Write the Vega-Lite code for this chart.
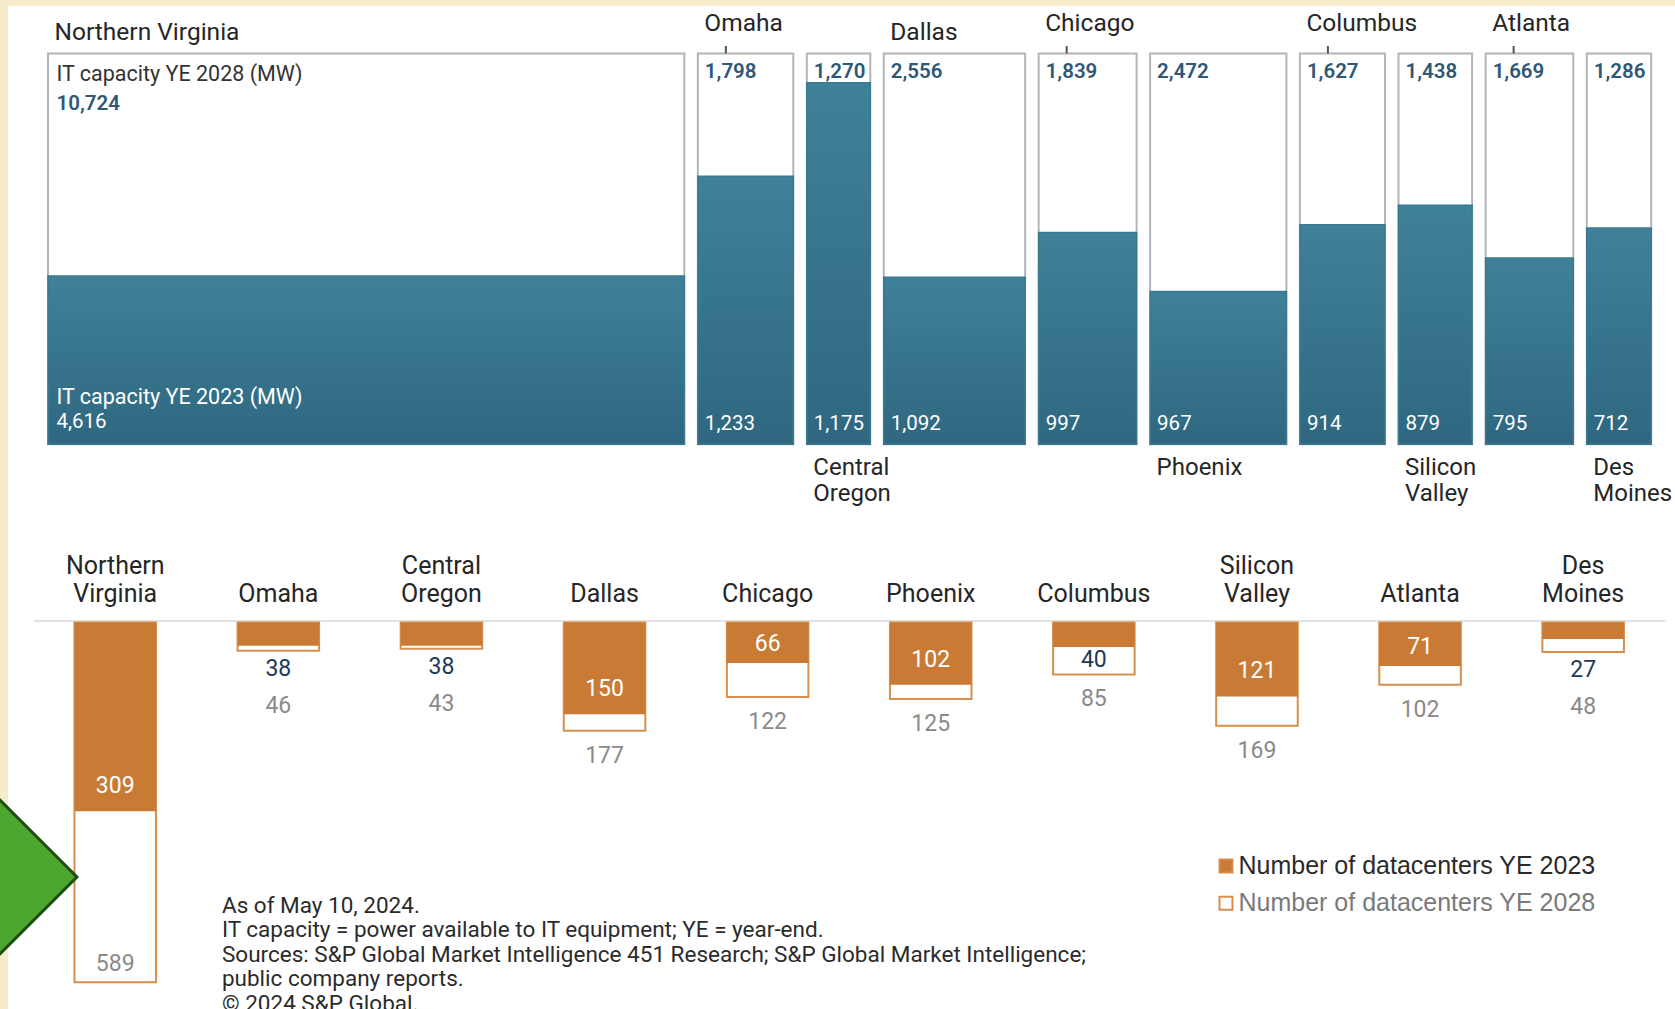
{
  "$schema": "https://vega.github.io/schema/vega-lite/v6.json",
  "width": 1667,
  "height": 1003,
  "autosize": {"type": "none"},
  "padding": {"left": 8, "top": 6, "right": 0, "bottom": 0},
  "background": "#f7ecca",
  "config": {"view": {"fill": "#ffffff", "stroke": null}, "font": "Roboto"},
  "datasets": {
    "cities": [
      {"city": "Northern Virginia", "mw2023": 4616, "mw2028": 10724, "dc2023": 309, "dc2028": 589},
      {"city": "Omaha", "mw2023": 1233, "mw2028": 1798, "dc2023": 38, "dc2028": 46},
      {"city": "Central Oregon", "mw2023": 1175, "mw2028": 1270, "dc2023": 38, "dc2028": 43},
      {"city": "Dallas", "mw2023": 1092, "mw2028": 2556, "dc2023": 150, "dc2028": 177},
      {"city": "Chicago", "mw2023": 997, "mw2028": 1839, "dc2023": 66, "dc2028": 122},
      {"city": "Phoenix", "mw2023": 967, "mw2028": 2472, "dc2023": 102, "dc2028": 125},
      {"city": "Columbus", "mw2023": 914, "mw2028": 1627, "dc2023": 40, "dc2028": 85},
      {"city": "Silicon Valley", "mw2023": 879, "mw2028": 1438, "dc2023": 121, "dc2028": 169},
      {"city": "Atlanta", "mw2023": 795, "mw2028": 1669, "dc2023": 71, "dc2028": 102},
      {"city": "Des Moines", "mw2023": 712, "mw2028": 1286, "dc2023": 27, "dc2028": 48}
    ],
    "notes": [
      {"note": "As of May 10, 2024.\nIT capacity = power available to IT equipment; YE = year-end.\nSources: S&P Global Market Intelligence 451 Research; S&P Global Market Intelligence;\npublic company reports.\n© 2024 S&P Global."}
    ]
  },
  "resolve": {"scale": {"x": "independent", "y": "independent"}},
  "layer": [
    {
      "data": {"name": "cities"},
      "transform": [
        {"window": [{"op": "sum", "field": "mw2028", "as": "cum"}], "sort": [{"field": "mw2023", "order": "descending"}], "frame": [null, 0]},
        {"calculate": "datum.cum - datum.mw2028", "as": "start"},
        {"calculate": "datum.mw2023 / datum.mw2028", "as": "share2023"}
      ],
      "layer": [
        {
          "mark": {"type": "rect", "fill": "#ffffff", "stroke": "#b0b6bb", "strokeWidth": 2, "x2Offset": -13.5},
          "encoding": {
            "x": {"field": "start", "type": "quantitative", "scale": {"domain": [0, 26679], "range": [40, 1656.7], "nice": false, "zero": false}, "axis": null},
            "x2": {"field": "cum"},
            "y": {"datum": 1, "type": "quantitative", "scale": {"domain": [0, 1], "range": [438.3, 47.4], "nice": false, "zero": false}, "axis": null},
            "y2": {"datum": 0}
          }
        },
        {
          "mark": {"type": "rect", "x2Offset": -13.5, "stroke": "#3a7891", "strokeWidth": 1.5,
            "fill": {"gradient": "linear", "x1": 0, "y1": 0, "x2": 0, "y2": 1, "stops": [{"offset": 0, "color": "#3f8199"}, {"offset": 1, "color": "#2f6780"}]}},
          "encoding": {
            "x": {"field": "start", "type": "quantitative"},
            "x2": {"field": "cum"},
            "y": {"field": "share2023", "type": "quantitative"},
            "y2": {"datum": 0}
          }
        },
        {
          "transform": [{"filter": "datum.city != 'Northern Virginia'"}],
          "mark": {"type": "text", "align": "left", "baseline": "middle", "dx": 7, "dy": 18.5, "fontSize": 20.5, "fontWeight": 600, "color": "#2e5876"},
          "encoding": {"x": {"field": "start", "type": "quantitative"}, "y": {"datum": 1, "type": "quantitative"}, "text": {"field": "mw2028", "format": ","}}
        },
        {
          "transform": [{"filter": "datum.city == 'Northern Virginia'"}],
          "mark": {"type": "text", "align": "left", "baseline": "middle", "dx": 8.5, "dy": 22, "fontSize": 21.5, "color": "#333333"},
          "encoding": {"x": {"field": "start", "type": "quantitative"}, "y": {"datum": 1, "type": "quantitative"}, "text": {"value": "IT capacity YE 2028 (MW)"}}
        },
        {
          "transform": [{"filter": "datum.city == 'Northern Virginia'"}],
          "mark": {"type": "text", "align": "left", "baseline": "middle", "dx": 8.5, "dy": 51, "fontSize": 20.5, "fontWeight": 600, "color": "#2e5876"},
          "encoding": {"x": {"field": "start", "type": "quantitative"}, "y": {"datum": 1, "type": "quantitative"}, "text": {"field": "mw2028", "format": ","}}
        },
        {
          "transform": [{"filter": "datum.city != 'Northern Virginia'"}],
          "mark": {"type": "text", "align": "left", "baseline": "middle", "dx": 7, "dy": -20, "fontSize": 20.5, "color": "#ffffff"},
          "encoding": {"x": {"field": "start", "type": "quantitative"}, "y": {"datum": 0, "type": "quantitative"}, "text": {"field": "mw2023", "format": ","}}
        },
        {
          "transform": [{"filter": "datum.city == 'Northern Virginia'"}],
          "mark": {"type": "text", "align": "left", "baseline": "middle", "dx": 8.5, "dy": -46, "fontSize": 21.5, "color": "#ffffff"},
          "encoding": {"x": {"field": "start", "type": "quantitative"}, "y": {"datum": 0, "type": "quantitative"}, "text": {"value": "IT capacity YE 2023 (MW)"}}
        },
        {
          "transform": [{"filter": "datum.city == 'Northern Virginia'"}],
          "mark": {"type": "text", "align": "left", "baseline": "middle", "dx": 8.5, "dy": -22, "fontSize": 20.5, "color": "#ffffff"},
          "encoding": {"x": {"field": "start", "type": "quantitative"}, "y": {"datum": 0, "type": "quantitative"}, "text": {"field": "mw2023", "format": ","}}
        },
        {
          "transform": [{"filter": "indexof(['Northern Virginia', 'Dallas'], datum.city) >= 0"}],
          "mark": {"type": "text", "align": "left", "baseline": "middle", "dx": 6.5, "dy": -20, "fontSize": 24.5, "color": "#262626"},
          "encoding": {"x": {"field": "start", "type": "quantitative"}, "y": {"datum": 1, "type": "quantitative"}, "text": {"field": "city"}}
        },
        {
          "transform": [{"filter": "indexof(['Omaha', 'Chicago', 'Columbus', 'Atlanta'], datum.city) >= 0"}],
          "mark": {"type": "text", "align": "left", "baseline": "middle", "dx": 6.5, "dy": -29.5, "fontSize": 24.5, "color": "#262626"},
          "encoding": {"x": {"field": "start", "type": "quantitative"}, "y": {"datum": 1, "type": "quantitative"}, "text": {"field": "city"}}
        },
        {
          "transform": [{"filter": "indexof(['Omaha', 'Chicago', 'Columbus', 'Atlanta'], datum.city) >= 0"}],
          "mark": {"type": "rule", "xOffset": 28, "color": "#555555", "strokeWidth": 2},
          "encoding": {"x": {"field": "start", "type": "quantitative"}, "y": {"datum": 1.019, "type": "quantitative"}, "y2": {"datum": 1}}
        },
        {
          "transform": [{"filter": "indexof(['Central Oregon', 'Phoenix', 'Silicon Valley', 'Des Moines'], datum.city) >= 0"}],
          "mark": {"type": "text", "align": "left", "baseline": "top", "dx": 6.5, "dy": 12, "fontSize": 24, "color": "#262626", "lineBreak": " ", "lineHeight": 25.6},
          "encoding": {"x": {"field": "start", "type": "quantitative"}, "y": {"datum": 0, "type": "quantitative"}, "text": {"field": "city"}}
        }
      ]
    },
    {
      "data": {"name": "cities"},
      "layer": [
        {
          "mark": {"type": "bar", "stroke": "#d88f4c", "strokeWidth": 2},
          "encoding": {
            "x": {
              "field": "city", "type": "nominal",
              "scale": {"domain": ["Northern Virginia", "Omaha", "Central Oregon", "Dallas", "Chicago", "Phoenix", "Columbus", "Silicon Valley", "Atlanta", "Des Moines"], "range": [25.7, 1656.7], "paddingInner": 0.5, "paddingOuter": 0.25},
              "axis": {"orient": "top", "offset": -614.6, "title": null, "ticks": false, "tickSize": 0, "labelPadding": 42, "labelAngle": 0,
                "labelExpr": "indexof(datum.label, ' ') >= 0 ? split(datum.label, ' ') : ['', datum.label]", "labelLineHeight": 28, "labelFont": "Roboto", "labelFontSize": 25, "labelColor": "#262626",
                "labelOverlap": false, "labelBound": false, "labelLimit": 0, "domainColor": "#e2e2e2", "domainWidth": 2, "grid": false}
            },
            "y": {"field": "dc2028", "type": "quantitative", "scale": {"domain": [0, 600], "range": [616.6, 982.9], "nice": false}, "axis": null},
            "fill": {"datum": "Number of datacenters YE 2028", "type": "nominal",
              "scale": {"domain": ["Number of datacenters YE 2023", "Number of datacenters YE 2028"], "range": ["#c97b36", "#ffffff"]},
              "legend": {"orient": "none", "legendX": 1205.5, "legendY": 847.5, "title": null, "padding": 0,
                "symbolType": "square", "symbolSize": 169, "symbolStrokeColor": "#d4904f", "symbolStrokeWidth": 2,
                "labelFont": "Liberation Sans", "labelFontSize": 25, "labelOffset": 0, "rowPadding": 11.3, "labelLimit": 0,
                "labelColor": {"expr": "datum.value == 'Number of datacenters YE 2023' ? '#2a2a2a' : '#7a7a7a'"}}}
          }
        },
        {
          "mark": {"type": "bar"},
          "encoding": {
            "x": {"field": "city", "type": "nominal"},
            "y": {"field": "dc2023", "type": "quantitative"},
            "fill": {"datum": "Number of datacenters YE 2023", "type": "nominal"}
          }
        },
        {
          "transform": [{"filter": "datum.dc2023 >= 90"}],
          "mark": {"type": "text", "baseline": "middle", "dy": -25, "fontSize": 23, "color": "#ffffff"},
          "encoding": {"x": {"field": "city", "type": "nominal"}, "y": {"field": "dc2023", "type": "quantitative"}, "text": {"field": "dc2023"}}
        },
        {
          "transform": [{"filter": "datum.dc2023 >= 60 && datum.dc2023 < 90"}],
          "mark": {"type": "text", "baseline": "middle", "dy": -18.5, "fontSize": 23, "color": "#ffffff"},
          "encoding": {"x": {"field": "city", "type": "nominal"}, "y": {"field": "dc2023", "type": "quantitative"}, "text": {"field": "dc2023"}}
        },
        {
          "transform": [{"filter": "datum.dc2023 < 60 && datum.dc2028 - datum.dc2023 >= 25"}],
          "mark": {"type": "text", "baseline": "middle", "dy": 13, "fontSize": 23, "color": "#203a57"},
          "encoding": {"x": {"field": "city", "type": "nominal"}, "y": {"field": "dc2023", "type": "quantitative"}, "text": {"field": "dc2023"}}
        },
        {
          "transform": [{"filter": "datum.dc2023 < 60 && datum.dc2028 - datum.dc2023 < 25"}],
          "mark": {"type": "text", "baseline": "middle", "dy": 18, "fontSize": 23, "color": "#203a57"},
          "encoding": {"x": {"field": "city", "type": "nominal"}, "y": {"field": "dc2028", "type": "quantitative"}, "text": {"field": "dc2023"}}
        },
        {
          "transform": [{"filter": "datum.dc2028 > 500"}],
          "mark": {"type": "text", "baseline": "middle", "dy": -18.5, "fontSize": 23, "color": "#8a8a8a"},
          "encoding": {"x": {"field": "city", "type": "nominal"}, "y": {"field": "dc2028", "type": "quantitative"}, "text": {"field": "dc2028"}}
        },
        {
          "transform": [{"filter": "datum.dc2028 <= 500 && (datum.dc2023 >= 60 || datum.dc2028 - datum.dc2023 >= 25)"}],
          "mark": {"type": "text", "baseline": "middle", "dy": 25, "fontSize": 23, "color": "#8a8a8a"},
          "encoding": {"x": {"field": "city", "type": "nominal"}, "y": {"field": "dc2028", "type": "quantitative"}, "text": {"field": "dc2028"}}
        },
        {
          "transform": [{"filter": "datum.dc2023 < 60 && datum.dc2028 - datum.dc2023 < 25"}],
          "mark": {"type": "text", "baseline": "middle", "dy": 55, "fontSize": 23, "color": "#8a8a8a"},
          "encoding": {"x": {"field": "city", "type": "nominal"}, "y": {"field": "dc2028", "type": "quantitative"}, "text": {"field": "dc2028"}}
        },
        {
          "data": {"name": "notes"},
          "mark": {"type": "text", "align": "left", "baseline": "top", "dx": -56.4, "fontSize": 22.5, "color": "#2b2b2b", "lineBreak": "\n", "lineHeight": 24.4},
          "encoding": {
            "x": {"datum": "Omaha", "type": "nominal"},
            "y": {"datum": 446.2, "type": "quantitative"},
            "text": {"field": "note"}
          }
        },
        {
          "data": {"values": [{"marker": "arrow"}]},
          "mark": {"type": "point", "shape": "diamond", "size": 23716, "filled": true, "fill": "#4ca62f", "stroke": "#1f4f10", "strokeWidth": 3, "opacity": 1, "xOffset": -115.3},
          "encoding": {
            "x": {"datum": "Northern Virginia", "type": "nominal"},
            "y": {"datum": 416.7, "type": "quantitative"}
          }
        }
      ]
    }
  ]
}
